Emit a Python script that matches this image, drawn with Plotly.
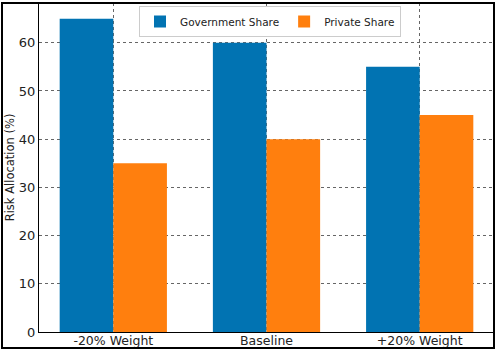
import plotly.graph_objects as go

categories = ["-20% Weight", "Baseline", "+20% Weight"]
government_share = [65, 60, 55]
private_share = [35, 40, 45]
y_ticks = [0, 10, 20, 30, 40, 50, 60]

W, H = 498, 351
L, R, T, B = 39, 4, 3, 19
pw, ph = W - L - R, H - T - B

fig = go.Figure()
fig.add_trace(go.Bar(x=categories, y=government_share, name="Government Share",
                     marker=dict(color="#0173B2", line=dict(width=0))))
fig.add_trace(go.Bar(x=categories, y=private_share, name="Private Share",
                     marker=dict(color="#FF7F0E", line=dict(width=0))))

grid = dict(showgrid=True, gridcolor="#666666", griddash="dot", gridwidth=1)
fig.update_layout(
    width=W, height=H,
    margin=dict(l=L, r=R, t=T, b=B, autoexpand=False),
    paper_bgcolor="white", plot_bgcolor="white",
    barmode="group", bargap=0.3, bargroupgap=0,
    font=dict(family="DejaVu Sans", size=12, color="#222222"),
    xaxis=dict(range=[-0.485, 2.485], showline=True, mirror=True, linecolor="black",
               linewidth=1, ticks="", tickfont=dict(size=12.5), ticklabelstandoff=-3,
               **grid),
    yaxis=dict(range=[0, 68.25], tickvals=y_ticks, showline=True, mirror=True,
               linecolor="black", linewidth=1, ticks="", zeroline=False,
               tickfont=dict(size=13),
               title=dict(text="Risk Allocation (%)", font=dict(size=11.5), standoff=1),
               **grid),
    legend=dict(orientation="h", x=(139 - L) / pw, y=1 - (6 - T) / ph,
                xanchor="left", yanchor="top", bgcolor="white",
                bordercolor="#cccccc", borderwidth=1, font=dict(size=10.5),
                itemwidth=30, tracegroupgap=0),
    showlegend=True,
)
fig.add_shape(type="rect", xref="paper", yref="paper",
              x0=(2 - L) / pw, x1=1.0, y0=(H - B - 348) / ph, y1=1.0,
              line=dict(color="black", width=2), fillcolor="rgba(0,0,0,0)", layer="above")
fig.write_html("out.html", config={"displayModeBar": False},
               post_script="document.body.style.margin='0';document.body.style.overflow='hidden';")
